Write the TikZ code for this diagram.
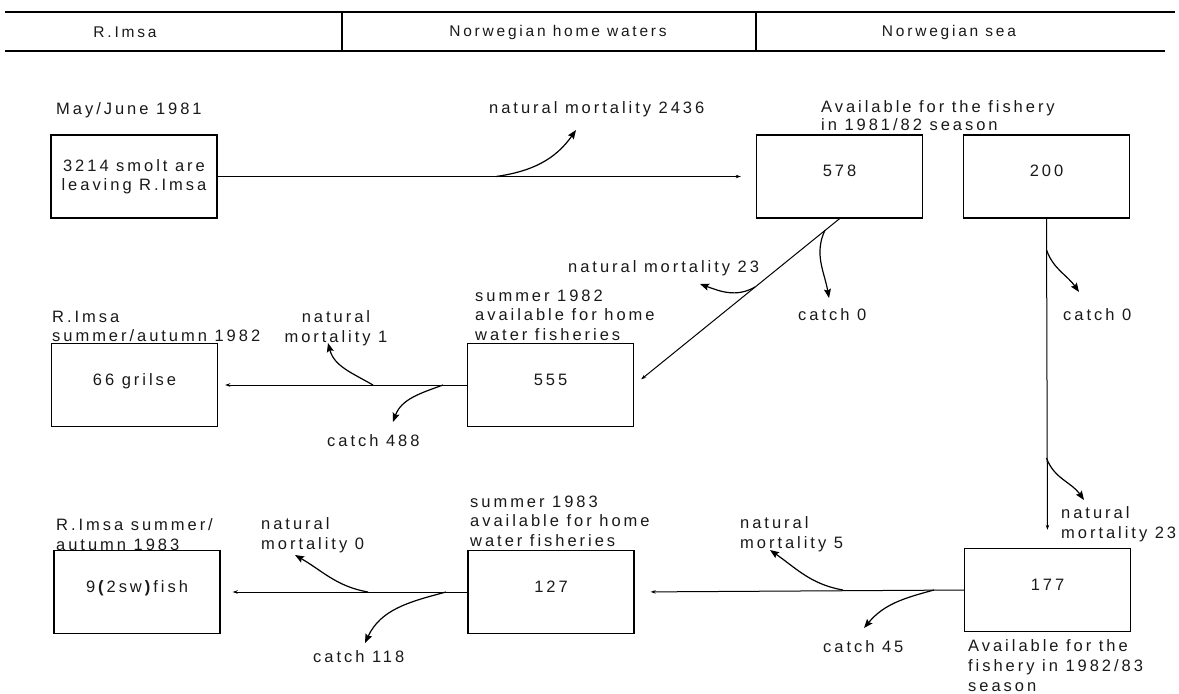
\documentclass[tikz,border=0pt]{standalone}
\usepackage{fontspec}
\setmainfont{Liberation Sans}[LetterSpace=18]
\usetikzlibrary{arrows.meta}
\tikzset{box/.style={draw, line width=1.4pt, minimum width=166pt, minimum height=83pt, inner sep=0pt, text height=12pt, text depth=12pt},
lbl/.style={inner sep=0pt, align=left, anchor=north west},
word/.style={inner sep=0pt, anchor=base west},
flow/.style={line width=1pt, -{Stealth[length=5pt,width=3.5pt]}},
%curved side arrows for the losses
loss/.style={line width=1.2pt, -{Stealth[length=9pt,width=7pt,inset=1.5pt]}}}

\begin{document}
\begin{tikzpicture}[x=1pt, y=-1pt, font=\fontsize{16.5pt}{19.5pt}\selectfont, text=black!90]
\useasboundingbox (0,0) rectangle (1179,694);

% header
\draw[line width=1.6pt] (5,12) -- (1175,12);
\draw[line width=1.6pt] (5,51) -- (1165,51);
\foreach \x in {342,756}
     \draw[line width=1.2pt] (\x,12) -- (\x,51);
\node[font=\fontsize{15.5pt}{19pt}\selectfont] (hImsa) at (125,32) {R.Imsa};
\node[font=\fontsize{15.5pt}{19pt}\selectfont] (hHome) at (558,32) {Norwegian home waters};
\node[font=\fontsize{15.5pt}{19pt}\selectfont] (hSea) at (949,32) {Norwegian sea};

% boxes
\node[box, align=center, text height=, text depth=] (smolt) at (134,176.5) {3214 smolt are\\leaving R.Imsa};
\node[box] (sea578) at (839.5,176.5) {578};
\node[box] (sea200) at (1046.5,176.5) {200};
\node[box] (grilse) at (134.5,385) {66 grilse};
\node[box] (home555) at (550.5,385) {555};
\node[box] (fish) at (137,592) {9\textbf{(}2sw\textbf{)}fish};
\node[box] (home127) at (551,592) {127};
\node[box] (sea177) at (1047.5,590) {177};

% texts
\node[word] (may81) at (56,114.5) {May/June 1981};
\node[word] (nm2436) at (489,113.5) {natural mortality 2436};
\node[lbl, font=\fontsize{16.5pt}{18pt}\selectfont] (avail81) at (821,100.5) {Available for the fishery\\in 1981/82 season};
\node[word] (nm23a) at (568,272.5) {natural mortality 23};
\node[word] (catch0a) at (798,320.5) {catch 0};
\node[word] (catch0b) at (1063,320.5) {catch 0};
\node[lbl] (sum82) at (475,289.5) {summer 1982\\available for home\\water fisheries};
\node[lbl] (imsa82) at (52,310.5) {R.Imsa\\summer/autumn 1982};
\node[lbl, align=center, anchor=north] (nm1) at (336,310.5) {natural\\mortality 1};
\node[word] (catch488) at (327,446.5) {catch 488};
\node[lbl] (imsa83) at (56,518.5) {R.Imsa summer/\\autumn 1983};
\node[lbl] (nm0) at (261,517.5) {natural\\mortality 0};
\node[lbl] (sum83) at (470,495.5) {summer 1983\\available for home\\water fisheries};
\node[lbl] (nm5) at (740,516.5) {natural\\mortality 5};
\node[lbl, font=\fontsize{16.5pt}{20pt}\selectfont] (nm23b) at (1061,506.5) {natural\\mortality 23};
\node[word] (catch118) at (313,662.5) {catch 118};
\node[word] (catch45) at (823,652.5) {catch 45};
\node[lbl, font=\fontsize{16.5pt}{20pt}\selectfont] (avail83) at (968,639.5) {Available for the\\fishery in 1982/83\\season};

% main flows
\draw[flow, shorten >=15pt] (smolt.east) -- (sea578.west);
\draw[flow, shorten >=9pt] (sea578.south) -- (home555.east);
\draw[flow, shorten >=18pt] (sea200.south) -- (sea177.north);
\draw[flow, shorten >=7pt] (home555.west) -- (grilse.east);
\draw[flow, shorten >=16pt] (sea177.west) -- (home127.west -| home127.east);
\draw[flow, shorten >=12pt] (home127.west) -- (fish.east);

% losses
\coordinate (m2436-s) at (496,176.5);  \coordinate (m2436-t) at (576,130);
\coordinate (m23a-s) at (755,287);     \coordinate (m23a-t) at (700,284);
\coordinate (c0a-s) at (825,230);      \coordinate (c0a-t) at (829,298);
\coordinate (c0b-s) at (1046.5,250);   \coordinate (c0b-t) at (1079,292);
\coordinate (m23b-s) at (1046.5,458);  \coordinate (m23b-t) at (1084,500);
\coordinate (m1-s) at (373,385);       \coordinate (m1-t) at (328,343);
\coordinate (c488-s) at (443,385);     \coordinate (c488-t) at (393,422);
\coordinate (m0-s) at (368,592);       \coordinate (m0-t) at (295,555);
\coordinate (c118-s) at (446,592);     \coordinate (c118-t) at (365,643);
\coordinate (m5-s) at (843,590);       \coordinate (m5-t) at (770,550);
\coordinate (c45-s) at (934,590);      \coordinate (c45-t) at (864,628);
\foreach \a/\o/\i in {m2436/8/-125, m23a/-150/-20, c0a/-115/100, c0b/-70/125, m23b/-70/125,
     m1/150/-75, c488/-160/70, m0/170/-30, c118/-165/65, m5/170/-35, c45/-165/50}
     \draw[loss] (\a-s) to[out=\o,in=\i] (\a-t);

\end{tikzpicture}
\end{document}
